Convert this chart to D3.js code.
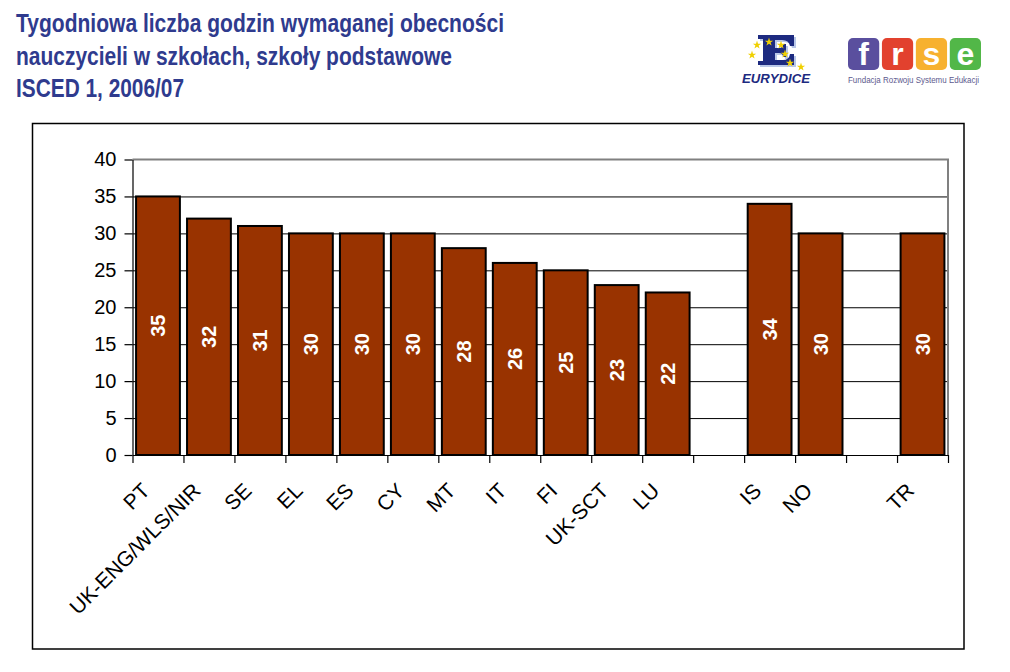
<!DOCTYPE html>
<html>
<head>
<meta charset="utf-8">
<script src="https://cdn.jsdelivr.net/npm/d3@7/dist/d3.min.js"></script>
<style>
    body { margin: 0; background: #fff; }
    svg { display: block; font-family: "Liberation Sans", Arial, sans-serif; }
    .title { font-weight: bold; fill: #2f3b8e; font-size: 26px; }
    .tick text { font-size: 20px; fill: #000; }
    .xlab { font-size: 21px; }
    .val { font-size: 20px; font-weight: bold; fill: #fff; }
</style>
</head>
<body>
<svg id="chart" width="1010" height="672"></svg>
<script>
    // data
    const categories = ['PT', 'UK-ENG/WLS/NIR', 'SE', 'EL', 'ES', 'CY', 'MT', 'IT', 'FI', 'UK-SCT', 'LU', '', 'IS', 'NO', '', 'TR'];
    const values = [35, 32, 31, 30, 30, 30, 28, 26, 25, 23, 22, null, 34, 30, null, 30];
    const yTicks = [0, 5, 10, 15, 20, 25, 30, 35, 40];
    const titleLines = ['Tygodniowa liczba godzin wymaganej obecności', 'nauczycieli w szkołach, szkoły podstawowe', 'ISCED 1, 2006/07'];

    const svg = d3.select('#chart');
    const plotL = 132.5, plotR = 948, plotT = 159.5, plotB = 455;

    // title
    const titleW = [488, 436, 168];
    svg.selectAll('.title').data(titleLines).join('text')
        .attr('class', 'title')
        .attr('x', 16)
        .attr('y', (d, i) => 32 + i * 32.5)
        .attr('textLength', (d, i) => titleW[i])
        .attr('lengthAdjust', 'spacingAndGlyphs')
        .text(d => d);

    // outer frame
    svg.append('rect')
        .attr('x', 32.5).attr('y', 123.5)
        .attr('width', 931.5).attr('height', 525.5)
        .attr('fill', 'none').attr('stroke', '#000').attr('stroke-width', 1.5);

    const idx = d3.range(categories.length);
    const x = d3.scaleBand().domain(idx).range([plotL, plotR]).paddingInner(0.14).paddingOuter(0.07);
    const xEdge = d3.scaleLinear().domain([0, categories.length]).range([plotL, plotR]);
    const y = d3.scaleLinear().domain([0, 40]).range([plotB, plotT]);

    // grid
    svg.append('g')
        .attr('transform', `translate(${plotL},0)`)
        .call(d3.axisLeft(y).tickValues(yTicks.slice(1, -1)).tickSize(-(plotR - plotL)).tickFormat(''))
        .call(g => g.select('.domain').remove())
        .call(g => g.selectAll('line').attr('stroke', '#000'));

    // plot border (top / right in grey)
    svg.append('path')
        .attr('d', `M${plotL},${y(40)}H${plotR}V${plotB}`)
        .attr('fill', 'none').attr('stroke', '#808080').attr('stroke-width', 2);

    // bars
    const data = idx.filter(i => values[i] != null);
    svg.append('g').selectAll('rect').data(data).join('rect')
        .attr('x', i => x(i))
        .attr('y', i => y(values[i]))
        .attr('width', x.bandwidth())
        .attr('height', i => y(0) - y(values[i]))
        .attr('fill', '#993300')
        .attr('stroke', '#000')
        .attr('stroke-width', 2);

    svg.append('g').selectAll('text').data(data).join('text')
        .attr('class', 'val')
        .attr('text-anchor', 'middle')
        .attr('dominant-baseline', 'central')
        .attr('transform', i => `translate(${x(i) + x.bandwidth() / 2},${y(values[i] / 2)}) rotate(-90)`)
        .text(i => values[i]);

    // y axis
    svg.append('g')
        .attr('transform', `translate(${plotL},0)`)
        .call(d3.axisLeft(y).tickValues(yTicks).tickSize(8).tickSizeOuter(0).tickPadding(8))
        .call(g => g.selectAll('line, path').attr('stroke', '#000').attr('stroke-width', 1.2));

    // x axis, ticks between categories
    svg.append('g')
        .attr('transform', `translate(0,${plotB})`)
        .call(d3.axisBottom(xEdge).tickValues(d3.range(categories.length + 1)).tickSize(8).tickSizeOuter(0).tickFormat(''))
        .call(g => g.selectAll('line, path').attr('stroke', '#000').attr('stroke-width', 1.2));

    svg.append('g').selectAll('text').data(idx.filter(i => categories[i])).join('text')
        .attr('class', 'xlab')
        .attr('text-anchor', 'end')
        .attr('transform', i => `translate(${x(i) + x.bandwidth() / 2 - 7},492) rotate(-45)`)
        .text(i => categories[i]);

    // logos
    const logo = svg.append('g');
    // slab-serif "E" of the Eurydice logo, drawn as a shape
    const eShape = 'M0,0H36V11H32Q31,5 24,5H17V13H21Q25,13 25,9H28V22H25Q25,18 21,18H17V25H25Q31,25 32,19H36V30H0V26H5V4H0Z';
    logo.append('path').attr('d', eShape)
        .attr('transform', 'translate(760,37)').attr('fill', '#b9c7e8');
    logo.append('path').attr('d', eShape)
        .attr('transform', 'translate(758,35)').attr('fill', '#1d2a80');
    const star = d3.symbol().type(d3.symbolStar).size(22);
    const stars = [[757, 45], [769, 42], [781, 45], [752, 55], [785, 54], [790, 63], [801, 67]];
    logo.selectAll('path.star').data(stars).join('path')
        .attr('class', 'star')
        .attr('d', star)
        .attr('transform', d => `translate(${d[0]},${d[1]})`)
        .attr('fill', '#f0d000');
    logo.append('text')
        .attr('x', 742).attr('y', 83)
        .attr('font-weight', 'bold').attr('font-style', 'italic')
        .attr('font-size', 13)
        .attr('fill', '#1d2a80')
        .attr('textLength', 68).attr('lengthAdjust', 'spacingAndGlyphs')
        .text('EURYDICE');

    const frse = [['f', '#5a4f9e'], ['r', '#e2412e'], ['s', '#f7b12f'], ['e', '#52b748']];
    const fx = d3.scaleBand().domain(d3.range(4)).range([848, 981]).paddingInner(0.08);
    logo.selectAll('rect.frse').data(frse).join('rect')
        .attr('class', 'frse')
        .attr('x', (d, i) => fx(i)).attr('y', 38)
        .attr('width', fx.bandwidth()).attr('height', 32)
        .attr('rx', 5)
        .attr('fill', d => d[1]);
    logo.selectAll('text.frse').data(frse).join('text')
        .attr('class', 'frse')
        .attr('x', (d, i) => fx(i) + fx.bandwidth() / 2).attr('y', 65)
        .attr('text-anchor', 'middle')
        .attr('font-size', 32).attr('font-weight', 'bold')
        .attr('fill', '#fff')
        .text(d => d[0]);
    logo.append('text')
        .attr('x', 848).attr('y', 83)
        .attr('font-size', 9)
        .attr('fill', '#5d5a8e')
        .attr('textLength', 131).attr('lengthAdjust', 'spacingAndGlyphs')
        .text('Fundacja Rozwoju Systemu Edukacji');
</script>
</body>
</html>
